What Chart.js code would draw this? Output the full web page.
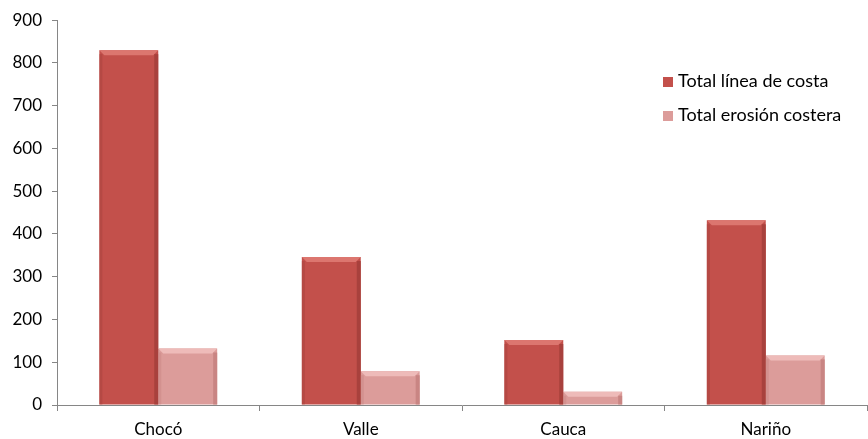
<!DOCTYPE html>
<html>
<head>
<meta charset="utf-8">
<script src="https://cdn.jsdelivr.net/npm/chart.js@4"></script>
<style>
    body { margin: 0; background: #fff; }
    #wrap { position: relative; width: 868px; height: 439px; }
    #legend { position: absolute; left: 663px; top: 68px; font-family: Lato, sans-serif; font-size: 18px; color: #000; }
    #legend div { height: 34px; line-height: 24px; white-space: nowrap; }
    #legend span.box { display: inline-block; width: 10px; height: 10px; margin-right: 5px; vertical-align: 0px; }
</style>
</head>
<body>
<div id="wrap">
    <canvas id="barChart" width="868" height="439"></canvas>
    <div id="legend"></div>
</div>
<script>
const categories = ['Chocó', 'Valle', 'Cauca', 'Nariño'];
const coastLine = [830, 346, 152, 432];
const coastErosion = [132, 79, 31, 116];
const seriesNames = ['Total línea de costa', 'Total erosión costera'];
const yTicks = [0, 100, 200, 300, 400, 500, 600, 700, 800, 900];

const colors = ['#c3504b', '#dc9c9a'];
const lightColors = ['#dc766f', '#eebbb9'];
const darkColors = ['#a8413d', '#c98583'];

// bevel look on top of each bar, using element positions from the chart
const bevelPlugin = {
    id: 'bevel',
    afterDatasetsDraw(chart) {
        const ctx = chart.ctx;
        chart.data.datasets.forEach((ds, i) => {
            chart.getDatasetMeta(i).data.forEach(bar => {
                const left = bar.x - bar.width / 2;
                const top = bar.y;
                const w = bar.width;
                const h = bar.base - bar.y;
                ctx.save();
                ctx.fillStyle = lightColors[i];
                ctx.beginPath();
                ctx.moveTo(left, top);
                ctx.lineTo(left + w, top);
                ctx.lineTo(left + w - 5, top + 5);
                ctx.lineTo(left + 5, top + 5);
                ctx.closePath();
                ctx.fill();
                ctx.fillStyle = darkColors[i];
                ctx.fillRect(left + w - 4, top + 4, 4, h - 4);
                ctx.globalAlpha = 0.5;
                ctx.fillRect(left, top + 4, 3, h - 4);
                ctx.restore();
            });
        });
    }
};

const barCtx = document.getElementById('barChart').getContext('2d');
const barChartInstance = new Chart(barCtx, {
    type: 'bar',
    data: {
        labels: categories,
        datasets: [{
            label: seriesNames[0],
            data: coastLine,
            backgroundColor: colors[0],
            categoryPercentage: 0.582,
            barPercentage: 1
        }, {
            label: seriesNames[1],
            data: coastErosion,
            backgroundColor: colors[1],
            categoryPercentage: 0.582,
            barPercentage: 1
        }]
    },
    options: {
        responsive: false,
        animation: false,
        layout: { padding: { top: 18, right: 1, left: 0, bottom: 0 } },
        plugins: {
            legend: { display: false },
            tooltip: { enabled: false }
        },
        scales: {
            x: {
                grid: { drawOnChartArea: false, drawTicks: true, tickLength: 6, color: '#868686' },
                border: { color: '#868686', width: 1 },
                ticks: { color: '#000', font: { family: 'Lato', size: 17 }, padding: 8 },
                afterFit(scale) { scale.height = 34; }
            },
            y: {
                min: 0,
                max: 900,
                afterBuildTicks(scale) { scale.ticks = yTicks.map(v => ({ value: v })); },
                grid: { drawOnChartArea: false, drawTicks: true, tickLength: 5, color: '#868686' },
                border: { color: '#868686', width: 1 },
                ticks: { color: '#000', font: { family: 'Lato', size: 17 }, padding: 10 },
                afterFit(scale) { scale.width = 57; }
            }
        }
    },
    plugins: [bevelPlugin]
});

const legendEl = document.getElementById('legend');
seriesNames.forEach((name, i) => {
    const row = document.createElement('div');
    row.innerHTML = '<span class="box" style="background:' + colors[i] + '"></span>' + name;
    legendEl.appendChild(row);
});
</script>
</body>
</html>
